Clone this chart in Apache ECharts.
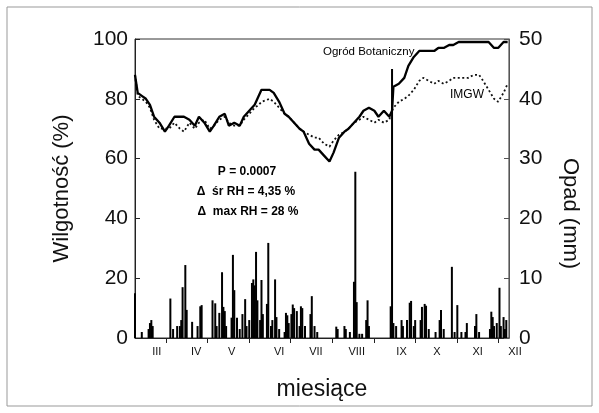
<!DOCTYPE html>
<html>
<head>
<meta charset="utf-8">
<script src="https://cdn.jsdelivr.net/npm/echarts@6/dist/echarts.min.js"></script>
<style>
  html, body { margin: 0; padding: 0; background: #fff; }
  #chart { width: 599px; height: 413px; }
</style>
</head>
<body>
<div id="chart"></div>
<script>
  // day of year for the humidity readings
  const days = [68, 70, 73, 76, 79, 82, 86, 90, 93, 97, 101, 104, 108, 112, 115, 119, 123, 126, 130, 134,
    137, 141, 145, 148, 152, 156, 159, 161, 167, 170, 174, 178, 181, 185, 189, 192, 196, 200, 203, 207,
    211, 214, 218, 222, 225, 229, 233, 236, 240, 244, 247, 251, 255, 257, 258, 262, 266, 269, 273, 277,
    280, 284, 288, 291, 295, 299, 302, 306, 310, 313, 317, 321, 324, 328, 332, 335, 339, 342];
  const rhGarden = [88, 82, 81, 80, 78, 74, 72, 69, 71, 74, 74, 74, 73, 71, 74, 72, 69, 71, 74, 75,
    71, 72, 71, 74, 76, 78, 81, 83, 83, 82, 79, 75, 74, 72, 70, 69, 65, 63, 63, 61,
    59, 62, 67, 69, 70, 72, 74, 76, 77, 76, 74, 76, 74, 76, 84, 85, 87, 91, 94, 96,
    96, 96, 96, 97, 97, 98, 98, 99, 99, 99, 99, 99, 99, 99, 97, 97, 99, 99];
  const rhImgw = [88, 81, 80, 79, 77, 73, 70, 70, 70, 72, 70, 69, 72, 70, 72, 73, 70, 71, 73, 74,
    72, 71, 71, 73, 75, 77, 78, 79, 80, 79, 77, 75, 74, 72, 70, 69, 68, 67, 67, 65,
    64, 66, 68, 69, 70, 72, 73, 74, 73, 72, 73, 72, 73, 76, 77, 79, 80, 81, 83, 86,
    87, 86, 85, 86, 85, 86, 87, 87, 87, 87, 88, 88, 86, 83, 80, 79, 82, 85];

  // daily precipitation (mm)
  const rainDays = [68, 73, 78, 79, 80, 81, 94, 96, 99, 101, 102, 103, 105, 106, 110, 114, 116, 117, 125, 127,
    128, 130, 132, 133, 134, 135, 139, 140, 141, 143, 145, 147, 149, 150, 152, 154, 155, 156, 157, 158,
    160, 161, 162, 165, 166, 168, 169, 171, 172, 174, 178, 179, 180, 181, 183, 184, 185, 187, 189, 190,
    191, 193, 197, 198, 200, 202, 216, 217, 222, 223, 226, 229, 230, 231, 233, 235, 238, 239, 240, 256,
    257, 258, 260, 264, 265, 268, 270, 271, 273, 274, 278, 279, 281, 282, 284, 289, 292, 293, 295, 301,
    303, 305, 308, 311, 312, 318, 319, 321, 329, 330, 331, 332, 334, 336, 337, 339, 340, 341];
  const rainMm = [7.5, 1, 1.5, 2.5, 3, 2, 6.6, 1.5, 2, 2, 3, 8.5, 12.2, 4.7, 2.7, 2, 5.3, 5.5, 6.3, 5.8,
    2, 4.2, 11, 5.2, 4.5, 2, 3.4, 13.9, 8, 3.4, 1.5, 4, 6.5, 2, 3, 9.2, 9.8, 8.8, 14.4, 6.3,
    3, 9.7, 4, 5.7, 15.9, 2, 3, 9.8, 3.5, 1.5, 1, 4.2, 3.8, 2.5, 4, 5.6, 5, 4.5, 2, 5.3,
    5, 2, 4, 7, 2, 1, 1.9, 1.5, 2, 1.5, 1, 9.4, 27.8, 6, 0.7, 0.7, 3, 6.3, 2, 5.3,
    45, 2.5, 2, 3, 2, 3, 5.9, 6.2, 2, 3, 3, 5.2, 5.7, 5.4, 1.5, 1, 3, 4.7, 1.5, 11.9,
    1, 5.5, 1, 1, 2.5, 2, 4, 1, 1.5, 4.4, 3.5, 2, 2.5, 8.4, 2, 3.5, 1.5, 3];

  const monthTickDays = [91, 121, 152, 182, 213, 244, 274, 305, 335];
  const monthLabelDays = [84, 113, 139, 174, 201, 231, 264, 290, 320, 343];
  const monthNames = ['III', 'IV', 'V', 'VI', 'VII', 'VIII', 'IX', 'X', 'XI', 'XII'];

  const font = 'Liberation Sans, Arial, sans-serif';
  const chart = echarts.init(document.getElementById('chart'));

  chart.setOption({
    animation: false,
    grid: { left: 135, right: 90, top: 39, bottom: 75, show: true, borderColor: '#333', borderWidth: 1 },
    xAxis: {
      type: 'value',
      min: 68,
      max: 343,
      name: 'miesiące',
      nameLocation: 'middle',
      nameGap: 40,
      nameTextStyle: { fontFamily: font, fontSize: 23, color: '#111' },
      splitLine: { show: false },
      axisLine: { lineStyle: { color: '#222' } },
      axisTick: { customValues: monthTickDays, length: 5, lineStyle: { color: '#222' } },
      axisLabel: {
        customValues: monthLabelDays,
        margin: 8,
        fontFamily: font,
        fontSize: 11,
        color: '#111',
        formatter: (value) => {
          const name = monthNames[monthLabelDays.indexOf(value)] || '';
          return name === 'XII' ? '{r|XII}' : name;
        },
        rich: { r: { fontFamily: font, fontSize: 11, color: '#111', padding: [0, 0, 0, 12] } },
      },
    },
    yAxis: [
      {
        type: 'value',
        min: 0,
        max: 100,
        interval: 20,
        name: 'Wilgotność (%)',
        nameLocation: 'middle',
        nameGap: 62,
        nameTextStyle: { fontFamily: font, fontSize: 22, color: '#111' },
        splitLine: { show: false },
        axisLine: { show: true, lineStyle: { color: '#222' } },
        axisTick: { show: true, inside: true, length: 5, lineStyle: { color: '#222' } },
        axisLabel: { fontFamily: font, fontSize: 21, color: '#111', margin: 7 },
      },
      {
        type: 'value',
        min: 0,
        max: 50,
        interval: 10,
        position: 'right',
        name: 'Opad (mm)',
        nameLocation: 'middle',
        nameGap: 50,
        nameRotate: -90,
        nameTextStyle: { fontFamily: font, fontSize: 22, color: '#111', padding: [0, 0, 0, 50] },
        splitLine: { show: false },
        axisLine: { show: true, lineStyle: { color: '#555' } },
        axisTick: { show: true, inside: true, length: 5, lineStyle: { color: '#555' } },
        axisLabel: { fontFamily: font, fontSize: 21, color: '#111', margin: 10 },
      },
    ],
    series: [
      {
        name: 'Opad',
        type: 'bar',
        yAxisIndex: 1,
        barWidth: 2,
        itemStyle: { color: '#000' },
        data: rainDays.map((d, i) => [d, rainMm[i]]),
      },
      {
        name: 'IMGW',
        type: 'line',
        showSymbol: false,
        z: 3,
        lineStyle: { color: '#111', width: 1.8, type: [2, 2.5] },
        data: days.map((d, i) => [d, rhImgw[i]]),
      },
      {
        name: 'Ogród Botaniczny',
        type: 'line',
        showSymbol: false,
        z: 4,
        lineStyle: { color: '#000', width: 2.3 },
        data: days.map((d, i) => [d, rhGarden[i]]),
      },
    ],
    graphic: [
      { type: 'rect', shape: { x: 7, y: 7, width: 585, height: 399 }, style: { fill: 'none', stroke: '#999', lineWidth: 1 } },
      { type: 'text', x: 247, y: 172, style: { text: 'P = 0.0007', font: 'bold 12px ' + font, fill: '#000', textAlign: 'center', textVerticalAlign: 'middle' } },
      { type: 'text', x: 246, y: 192, style: { text: 'Δ  śr RH = 4,35 %', font: 'bold 12px ' + font, fill: '#000', textAlign: 'center', textVerticalAlign: 'middle' } },
      { type: 'text', x: 248, y: 212, style: { text: 'Δ  max RH = 28 %', font: 'bold 12px ' + font, fill: '#000', textAlign: 'center', textVerticalAlign: 'middle' } },
      { type: 'text', x: 323, y: 52, style: { text: 'Ogród Botaniczny', font: '11.5px ' + font, fill: '#000', textVerticalAlign: 'middle' } },
      { type: 'text', x: 450, y: 95, style: { text: 'IMGW', font: '12px ' + font, fill: '#000', textVerticalAlign: 'middle' } },
    ],
  });
</script>
</body>
</html>
